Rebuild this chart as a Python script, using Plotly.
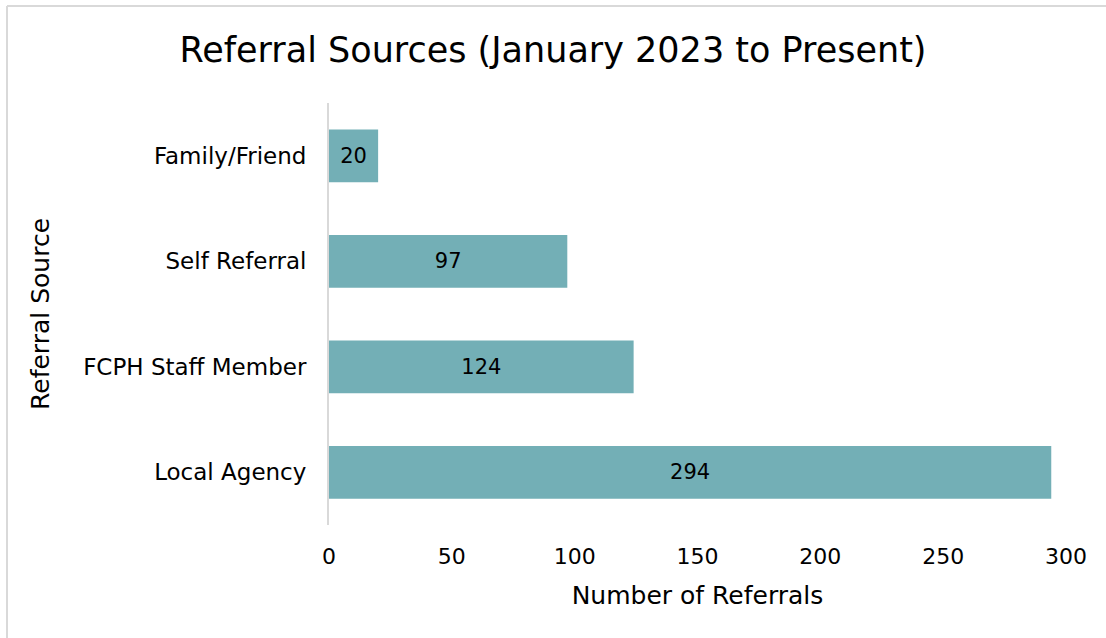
import plotly.graph_objects as go

categories = ["Local Agency", "FCPH Staff Member", "Self Referral", "Family/Friend"]
values = [294, 124, 97, 20]
x_ticks = [0, 50, 100, 150, 200, 250, 300]

FONT = "DejaVu Sans"
W, H = 1106, 638
L, R, T, B = 329, 40, 103, 113
pw, ph = W - L - R, H - T - B

def px_x(p):
    return (p - L) / pw

def px_y(p):
    return (H - B - p) / ph

fig = go.Figure(go.Bar(
    x=values, y=categories, orientation="h",
    marker=dict(color="#73AFB6", line=dict(width=0)),
    width=0.5,
    text=[str(v) for v in values],
    textposition="inside", insidetextanchor="middle",
    textfont=dict(family=FONT, size=21, color="#000000"),
    constraintext="none",
    hoverinfo="skip",
))

border = dict(color="#D9D9D9", width=2)
fig.update_layout(
    width=W, height=H,
    margin=dict(l=L, r=R, t=T, b=B),
    paper_bgcolor="white", plot_bgcolor="white",
    showlegend=False,
    title=dict(text="Referral Sources (January 2023 to Present)",
               x=0.5, xref="container", xanchor="center", y=(H - 50) / H, yanchor="middle",
               font=dict(family=FONT, size=35, color="#000000")),
    xaxis=dict(range=[0, 300], tickvals=x_ticks, showgrid=False, zeroline=False,
               showline=False, ticks="", ticklabelstandoff=16,
               tickfont=dict(family=FONT, size=22, color="#000000"),
               title=dict(text="Number of Referrals", standoff=18,
                          font=dict(family=FONT, size=25, color="#000000"))),
    yaxis=dict(categoryorder="array", categoryarray=categories, showgrid=False,
               zeroline=False, showline=True, linecolor="#D9D9D9", linewidth=2,
               ticks="", ticklabelstandoff=16,
               tickfont=dict(family=FONT, size=23, color="#000000"),
               title=dict(text="Referral Source", standoff=26,
                          font=dict(family=FONT, size=25, color="#000000"))),
    shapes=[
        dict(type="line", xref="paper", yref="paper",
             x0=px_x(7), x1=px_x(7), y0=px_y(650), y1=px_y(6), line=border, layer="below"),
        dict(type="line", xref="paper", yref="paper",
             x0=px_x(7), x1=px_x(1120), y0=px_y(6), y1=px_y(6), line=border, layer="below"),
    ],
)

fig.write_html("out.html", config={"displayModeBar": False},
               post_script="document.body.style.margin='0';")
